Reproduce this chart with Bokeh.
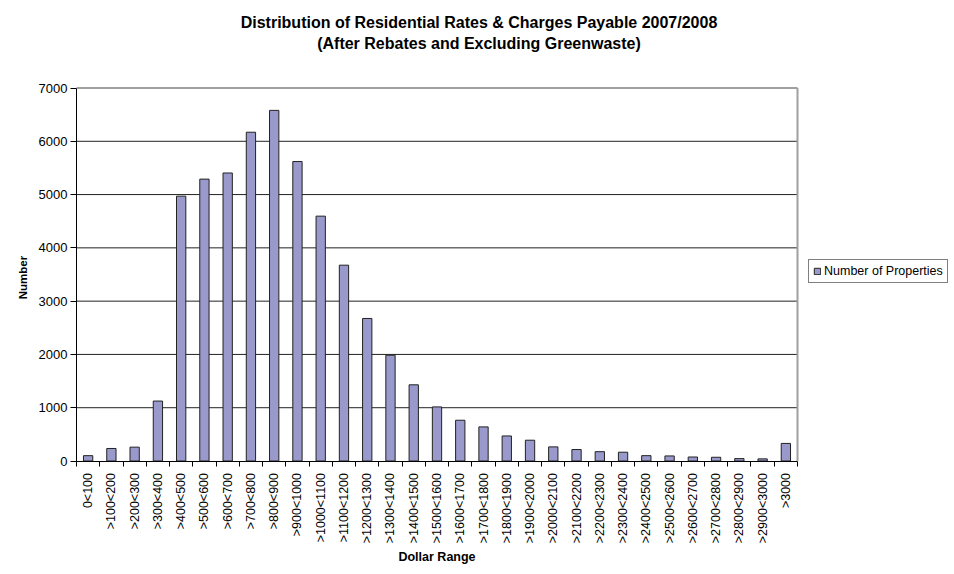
import math
from bokeh.plotting import figure
from bokeh.models import (Range1d, FixedTicker, CustomJSTickFormatter, Legend, LegendItem,
                          Label, ColumnDataSource)
from bokeh.embed import file_html
from bokeh.resources import INLINE

# ---- data ----
categories = ["0<100", ">100<200", ">200<300", ">300<400", ">400<500", ">500<600",
              ">600<700", ">700<800", ">800<900", ">900<1000", ">1000<1100",
              ">1100<1200", ">1200<1300", ">1300<1400", ">1400<1500", ">1500<1600",
              ">1600<1700", ">1700<1800", ">1800<1900", ">1900<2000", ">2000<2100",
              ">2100<2200", ">2200<2300", ">2300<2400", ">2400<2500", ">2500<2600",
              ">2600<2700", ">2700<2800", ">2800<2900", ">2900<3000", ">3000"]
number_of_properties = [100, 235, 260, 1125, 4970, 5290, 5405, 6170, 6580, 5620, 4595,
                        3675, 2675, 1985, 1430, 1015, 765, 640, 470, 390, 265,
                        215, 175, 165, 100, 95, 75, 70, 45, 40, 330]
y_ticks = [0, 1000, 2000, 3000, 4000, 5000, 6000, 7000]
title_lines = ["Distribution of Residential Rates & Charges Payable 2007/2008",
               "(After Rebates and Excluding Greenwaste)"]
series_name = "Number of Properties"
x_title = "Dollar Range"
y_title = "Number"

FONT = "Liberation Sans"
W, H = 954, 574
# plot-area placement in canvas pixels
LEFT, RIGHT, TOP, BASE = 76, 797, 87.5, 460.5
n = len(categories)
ymax = y_ticks[-1]
px_x = (RIGHT - LEFT) / n
px_y = (BASE - TOP) / ymax


def dx(sx):
    return (sx - LEFT) / px_x


def dy(sy):
    return (BASE - sy) / px_y


centers = [i + 0.5 for i in range(n)]
bounds = [float(i) for i in range(n + 1)]

src = ColumnDataSource(dict(x=centers, y=number_of_properties, cat=categories))

# the frame covers the whole canvas; the axes sit at fixed data locations
p = figure(width=W, height=H, output_backend="svg", toolbar_location=None,
           x_range=Range1d(dx(0), dx(W)), y_range=Range1d(dy(H), dy(0)),
           min_border=0, title=None)
p.background_fill_color = "white"
p.border_fill_color = "white"
p.outline_line_color = None
p.xgrid.visible = False
p.ygrid.visible = False

grid_vals = y_ticks[1:-1]
p.segment(x0=[0] * len(grid_vals), x1=[n] * len(grid_vals), y0=grid_vals, y1=grid_vals,
          line_color="#222222", line_width=1)
p.segment(x0=[0, n], x1=[n, n], y0=[ymax, 0], y1=[ymax, ymax],
          line_color="#A0A0A0", line_width=2)

bars = p.vbar(x="x", top="y", width=0.4, bottom=0, source=src,
              fill_color="#9999CC", line_color="#222222", line_width=1)

# x axis
xa = p.xaxis[0]
xa.fixed_location = 0
xa.bounds = (0, n)
xa.ticker = FixedTicker(ticks=centers, minor_ticks=bounds)
xa.formatter = CustomJSTickFormatter(args=dict(labels=categories),
                                     code="return labels[Math.round(tick - 0.5)];")
xa.major_tick_out = 0
xa.major_tick_in = 0
xa.minor_tick_out = 5
xa.minor_tick_in = 0
xa.minor_tick_line_color = "black"
xa.axis_line_color = "black"
xa.major_label_orientation = math.pi / 2
xa.major_label_standoff = 7
xa.major_label_text_font = FONT
xa.major_label_text_font_size = "12.5px"
xa.major_label_text_color = "black"

# y axis
ya = p.yaxis[0]
ya.fixed_location = 0
ya.bounds = (0, ymax)
ya.ticker = FixedTicker(ticks=y_ticks)
ya.major_tick_out = 6
ya.major_tick_in = 0
ya.minor_tick_out = 0
ya.minor_tick_in = 0
ya.axis_line_color = "black"
ya.major_label_standoff = 3
ya.major_label_text_font = FONT
ya.major_label_text_font_size = "13px"
ya.major_label_text_color = "black"

# axis titles
p.add_layout(Label(x=dx(436.5), y=dy(556), text=x_title, text_align="center",
                   text_baseline="middle", text_font=FONT, text_font_size="12.5px",
                   text_font_style="bold", text_color="black"))
p.add_layout(Label(x=dx(22), y=dy(277), text=y_title, angle=math.pi / 2,
                   text_align="center", text_baseline="middle", text_font=FONT,
                   text_font_size="11.5px", text_font_style="bold", text_color="black"))

# legend
legend = Legend(items=[LegendItem(label=series_name, renderers=[bars])],
                location=(808, H - 283), orientation="vertical",
                border_line_color="black", border_line_width=1,
                background_fill_color="white", background_fill_alpha=1,
                label_text_font=FONT, label_text_font_size="12.5px",
                label_text_color="black", glyph_width=8, glyph_height=8,
                label_standoff=3, padding=4, spacing=0, margin=0,
                label_height=12)
p.add_layout(legend, "center")

# two-line title centred on the whole chart
for line, sy in zip(title_lines, [22, 43]):
    p.add_layout(Label(x=dx(478.5), y=dy(sy), text=line,
                       text_align="center", text_baseline="middle", text_font=FONT,
                       text_font_size="16px", text_font_style="bold",
                       text_color="black"))

open("out.html", "w").write(file_html(p, INLINE))
